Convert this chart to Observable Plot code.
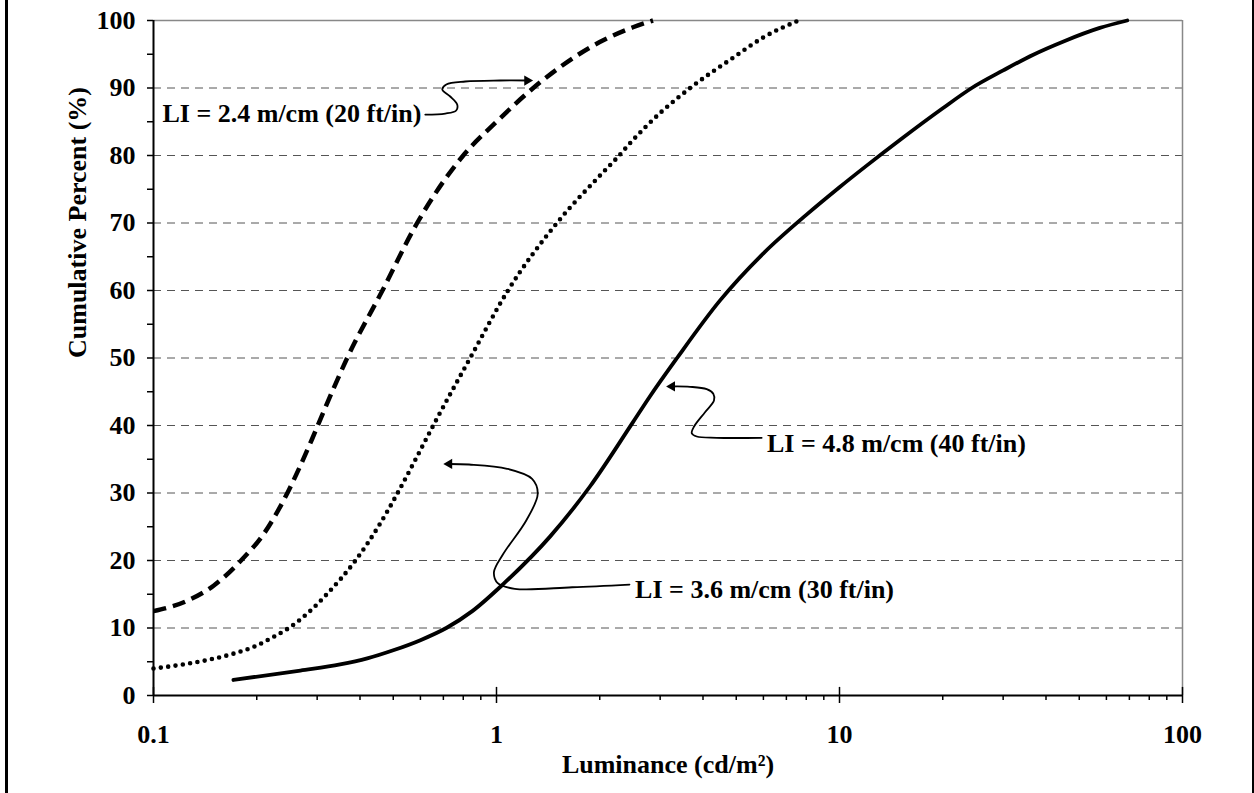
<!DOCTYPE html>
<html>
<head>
<meta charset="utf-8">
<script src="https://cdn.jsdelivr.net/npm/d3@7"></script>
<script src="https://cdn.jsdelivr.net/npm/@observablehq/plot@0.6"></script>
<style>
  html, body { margin: 0; padding: 0; background: white; }
  #wrap { position: relative; width: 1254px; height: 793px; overflow: hidden; background: white; }
  .edge { position: absolute; top: 0; bottom: 0; background: #000; }
</style>
</head>
<body>
<div id="wrap">
  <div class="edge" style="left:5px;width:2.5px"></div>
  <div class="edge" style="left:1252px;width:1.5px"></div>
</div>
<script>
// ---- data ----
const lum20 = [0.1, 0.125, 0.15, 0.18, 0.21, 0.24, 0.265, 0.29, 0.31, 0.335, 0.367, 0.465, 0.587, 0.8, 1.0, 1.28, 2.0, 2.5, 2.86];
const pct20 = [12.5, 14, 16.3, 20, 24, 29, 33.5, 38, 41.5, 45.5, 50, 60, 70, 80, 85, 90, 96.8, 99, 100];

const lum30 = [0.1, 0.122, 0.145, 0.171, 0.2, 0.224, 0.248, 0.283, 0.32, 0.388, 0.452, 0.515, 0.581, 0.654, 0.838, 1.08, 1.5, 2.0, 2.25, 2.5, 3.0, 3.67, 4.9, 6.0, 7.6];
const pct30 = [4, 4.6, 5.3, 6.2, 7.4, 8.7, 10, 12.3, 15, 20, 25, 30, 35, 40, 50, 60, 70, 77, 79.7, 82.3, 86.3, 90, 94.5, 97.5, 100];

const lum40 = [0.171, 0.268, 0.35, 0.42, 0.5, 0.6, 0.714, 0.85, 1.046, 1.43, 1.875, 2.5, 2.8, 3.36, 4.48, 6.0, 8.0, 10, 12, 15, 20, 24.3, 30, 36.6, 45, 57.4, 69];
const pct40 = [2.3, 3.7, 4.6, 5.5, 6.7, 8.2, 10, 12.5, 16.5, 23.5, 31, 40.5, 44.3, 50, 58.5, 65.5, 71.2, 75.3, 78.5, 82.3, 87, 90, 92.6, 94.9, 96.9, 98.9, 100];

const labelText = ["LI = 2.4 m/cm (20 ft/in)", "LI = 4.8 m/cm (40 ft/in)", "LI = 3.6 m/cm (30 ft/in)"];
const labelLum = [0.1062, 6.145, 2.536];
const labelPct = [86.2, 37.3, 15.7];

// annotation leader curves (luminance, percent)
const lead20Lum = [0.620, 0.709, 0.763, 0.768, 0.733, 0.695, 0.714, 0.811, 1.025, 1.229];
const lead20Pct = [86.07, 86.22, 86.67, 87.56, 88.74, 89.78, 90.52, 90.96, 91.11, 91.11];
const lead40Lum = [5.93, 4.385, 3.835, 3.709, 3.767, 4.054, 4.306, 4.286, 4.101, 3.666, 3.249];
const lead40Pct = [38.18, 38.18, 38.37, 38.86, 39.85, 41.97, 43.70, 44.70, 45.38, 45.73, 45.78];
const lead30Lum = [2.442, 1.662, 1.131, 1.008, 0.983, 1.047, 1.221, 1.319, 1.270, 1.074, 0.832, 0.728];
const lead30Pct = [16.44, 16.04, 15.81, 16.64, 18.27, 20.99, 25.93, 29.88, 32.10, 33.59, 34.22, 34.30];
const headLum = [1.229, 3.249, 0.728];
const headPct = [91.11, 45.78, 34.30];
const headRot = [90, -90, -90];

const xMajor = [0.1, 1, 10, 100];
const xMinor = [0.2,0.3,0.4,0.5,0.6,0.7,0.8,0.9, 2,3,4,5,6,7,8,9, 20,30,40,50,60,70,80,90];
const yMajor = [0,10,20,30,40,50,60,70,80,90,100];
const yMinor = [5,15,25,35,45,55,65,75,85,95];
const yGrid = [10,20,30,40,50,60,70,80,90];
const xTitle = "Luminance (cd/m²)";
const yTitle = "Cumulative Percent (%)";

const zip = (a, b) => a.map((v, i) => ({x: v, y: b[i]}));
const d20 = zip(lum20, pct20), d30 = zip(lum30, pct30), d40 = zip(lum40, pct40);
const labels = labelText.map((t, i) => ({t, x: labelLum[i], y: labelPct[i]}));
const heads = headLum.map((v, i) => ({x: v, y: headPct[i], r: headRot[i]}));
const FS = 26;
const font = "'Liberation Serif', 'Times New Roman', serif";

const chart = Plot.plot({
  width: 1254, height: 793,
  marginLeft: 153, marginRight: 72, marginTop: 20, marginBottom: 98,
  style: `font-family: ${font}; font-weight: bold; background: transparent; overflow: visible;`,
  x: {type: "log", domain: [0.1, 100]},
  y: {domain: [0, 100]},
  marks: [
    Plot.ruleY(yGrid, {stroke: "#555", strokeWidth: 1, strokeDasharray: "8,6"}),
    Plot.ruleY([100], {stroke: "#888", strokeWidth: 1.5}),
    Plot.ruleX([100], {y1: 0, y2: 100, stroke: "#888", strokeWidth: 1.5}),
    Plot.axisY({ticks: yMajor, tickSize: 6, tickPadding: 12, fontSize: FS, fontWeight: "bold", label: null, strokeWidth: 1.5}),
    Plot.axisY({ticks: yMinor, tickSize: 6, tickFormat: () => "", label: null, strokeWidth: 1.5}),
    Plot.axisX({ticks: xMajor, tickSize: 8, tickPadding: 21, tickFormat: d => String(d), fontSize: FS, fontWeight: "bold", label: null, strokeWidth: 1.5}),
    Plot.axisX({ticks: xMinor, tickSize: 5, tickFormat: () => "", label: null, strokeWidth: 1.5}),
    Plot.ruleX(xMajor, {y1: 0, y2: 1.2, stroke: "#000", strokeWidth: 1.5}),
    Plot.ruleX([0.1], {y1: 0, y2: 100, stroke: "#000", strokeWidth: 2}),
    Plot.ruleY([0], {stroke: "#000", strokeWidth: 2}),
    Plot.line(d20, {x: "x", y: "y", stroke: "#000", strokeWidth: 4.5, strokeDasharray: "13,7", strokeLinecap: "butt", curve: "monotone-x"}),
    Plot.line(d30, {x: "x", y: "y", stroke: "#000", strokeWidth: 4.6, strokeDasharray: "0,7.4", strokeLinecap: "round", curve: "monotone-x"}),
    Plot.line(d40, {x: "x", y: "y", stroke: "#000", strokeWidth: 3.8, curve: "monotone-x"}),
    Plot.line(zip(lead20Lum, lead20Pct), {x: "x", y: "y", stroke: "#000", strokeWidth: 1.8, curve: "catmull-rom"}),
    Plot.line(zip(lead40Lum, lead40Pct), {x: "x", y: "y", stroke: "#000", strokeWidth: 1.8, curve: "catmull-rom"}),
    Plot.line(zip(lead30Lum, lead30Pct), {x: "x", y: "y", stroke: "#000", strokeWidth: 1.8, curve: "catmull-rom"}),
    Plot.dot(heads, {x: "x", y: "y", rotate: "r", symbol: "triangle", r: 3.8, fill: "#000", stroke: "none"}),
    Plot.text(labels, {x: "x", y: "y", text: "t", textAnchor: "start", fontSize: FS, fontWeight: "bold", fill: "#000"}),
    Plot.text([yTitle], {frameAnchor: "left", dx: -76, rotate: -90, fontSize: FS, fontWeight: "bold", fill: "#000"}),
    Plot.text([xTitle], {frameAnchor: "bottom", dy: 77, fontSize: FS, fontWeight: "bold", fill: "#000"})
  ]
});
document.getElementById("wrap").appendChild(chart);
chart.style.position = "absolute";
chart.style.left = "0";
chart.style.top = "0";
</script>
</body>
</html>
